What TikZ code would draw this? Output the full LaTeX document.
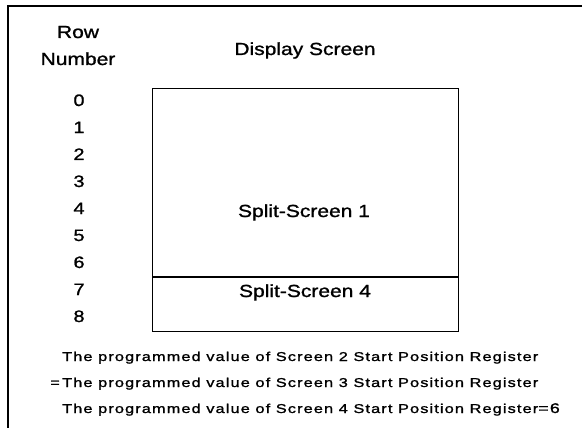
\documentclass[tikz,border=0pt]{standalone}
\usepackage{fontspec}
\newfontfamily\topf[FakeStretch=1.2,FakeBold=1.2]{Liberation Sans}
\newfontfamily\botf[FakeStretch=1.27,LetterSpace=9,FakeBold=1.4]{Liberation Sans}
\begin{document}
\begin{tikzpicture}[x=1pt,y=-1pt,
  lab/.style={inner sep=0pt, anchor=base, font=\topf\fontsize{17.5}{20}\selectfont},
  num/.style={inner sep=0pt, anchor=base, font=\topf\fontsize{16.5}{20}\selectfont},
  note/.style={inner sep=0pt, anchor=base west, font=\botf\fontsize{12.8}{15}\selectfont},
  frameline/.style={line width=1.1pt}]
\useasboundingbox (0,0) rectangle (587,436);
\coordinate (tl) at (8,6);
\coordinate (tr) at (582,6);
\coordinate (bl) at (8,428);
\draw[frameline] (tr) -- (tl) -- (bl);
\node[lab] (row) at (78,38) {Row};
\node[lab] (number) at (78,65) {Number};
\node[lab] (disp) at (305,55) {Display Screen};
\foreach \i in {0,...,8} \node[num] (r\i) at (79,{106+27*\i}) {\i};
\node[draw, frameline, anchor=north west, inner sep=0pt, minimum width=306pt, minimum height=243pt] (scr) at (152,88) {};
\coordinate (dl) at (152,277);
\coordinate (dr) at (458,277);
\draw[frameline] (dl) -- (dr);
\node[lab] (s1) at (304,217) {Split-Screen 1};
\node[lab] (s4) at (305,297) {Split-Screen 4};
\node[note] (n1) at (62,361) {The programmed value of Screen 2 Start Position Register};
\node[note] (n2) at (62,387) {The programmed value of Screen 3 Start Position Register};
\node[note, anchor=base east] (eq) at (60,387) {=};
\node[note] (n3) at (62,413) {The programmed value of Screen 4 Start Position Register{\fontsize{14}{15}\selectfont=6}};
\end{tikzpicture}
\end{document}
